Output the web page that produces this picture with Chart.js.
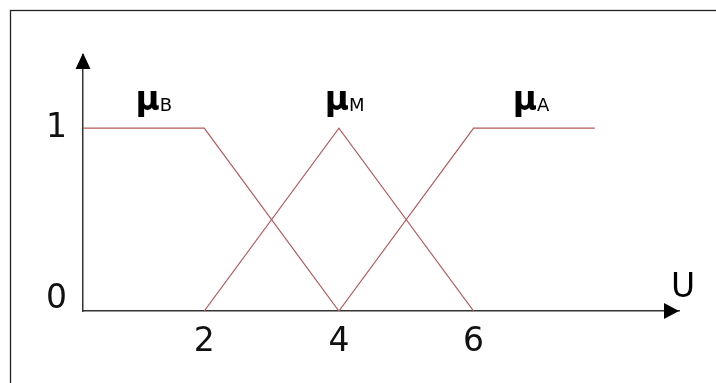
<!DOCTYPE html>
<html>
<head>
<meta charset="utf-8">
<script src="https://cdn.jsdelivr.net/npm/chart.js@4/dist/chart.umd.min.js"></script>
<style>
  body { margin: 0; background: #fff; }
</style>
</head>
<body>
<canvas id="my-chart" width="716" height="383"></canvas>
<script>
// membership functions (x = U, y = degree)
let lowX = [0.2, 2, 4];
let lowY = [1, 1, 0];
let midX = [2, 4, 6];
let midY = [0, 1, 0];
let highX = [4, 6, 7.8];
let highY = [0, 1, 1];

let xTicks = [2, 4, 6];
let yTicks = [0, 1];

let curveNames = ['B', 'M', 'A'];
let nameX = [0.98, 3.79, 6.58];
let nameY = 1.1;
let axisName = 'U';

function toPoints(xs, ys) {
    let pts = [];
    for (let i = 0; i < xs.length; i++) {
        pts.push({ x: xs[i], y: ys[i] });
    }
    return pts;
}

let lineColor = '#b9585a';
let axisColor = '#333';
let fontFamily = '"DejaVu Sans", Verdana, sans-serif';

let extras = {
    id: 'extras',
    beforeDraw: function(chart) {
        let ctx = chart.ctx;
        ctx.save();
        ctx.fillStyle = '#fff';
        ctx.fillRect(0, 0, chart.width, chart.height);
        ctx.strokeStyle = '#222';
        ctx.lineWidth = 1.3;
        ctx.strokeRect(10.5, 10.5, 800, 800);
        ctx.restore();
    },
    afterDraw: function(chart) {
        let ctx = chart.ctx;
        let area = chart.chartArea;
        let xs = chart.scales.x;
        let ys = chart.scales.y;
        ctx.save();
        ctx.fillStyle = '#000';

        // arrow heads
        ctx.beginPath();
        ctx.moveTo(area.left, area.top - 2);
        ctx.lineTo(area.left - 7.5, area.top + 14);
        ctx.lineTo(area.left + 7.5, area.top + 14);
        ctx.closePath();
        ctx.fill();

        ctx.beginPath();
        ctx.moveTo(area.right, area.bottom);
        ctx.lineTo(area.right - 15, area.bottom - 8);
        ctx.lineTo(area.right - 15, area.bottom + 8);
        ctx.closePath();
        ctx.fill();

        // axis name
        ctx.font = '33px ' + fontFamily;
        ctx.textBaseline = 'alphabetic';
        ctx.textAlign = 'left';
        ctx.fillText(axisName, area.right - 8, area.bottom - 14);

        // curve names
        for (let i = 0; i < curveNames.length; i++) {
            let px = xs.getPixelForValue(nameX[i]);
            let py = ys.getPixelForValue(nameY);
            ctx.font = 'bold 33px ' + fontFamily;
            ctx.fillText('μ', px, py);
            let w = ctx.measureText('μ').width;
            ctx.font = '18px ' + fontFamily;
            ctx.fillText(curveNames[i], px + w, py + 1);
        }
        ctx.restore();
    }
};

let ctx = document.getElementById('my-chart').getContext('2d');

let myData = {
    datasets: [
        { data: toPoints(lowX, lowY) },
        { data: toPoints(midX, midY) },
        { data: toPoints(highX, highY) }
    ]
};

let myChart = new Chart(ctx, {
    type: 'scatter',
    data: myData,
    options: {
        responsive: false,
        animation: false,
        showLine: true,
        layout: { padding: { top: 55, right: 37, left: 0, bottom: 0 } },
        elements: {
            point: { radius: 0, hoverRadius: 0 },
            line: { borderColor: lineColor, borderWidth: 1.2, tension: 0, fill: false }
        },
        plugins: {
            legend: { display: false },
            tooltip: { enabled: false }
        },
        scales: {
            x: {
                type: 'linear',
                min: 0.2,
                max: 9.05,
                grid: { display: false, drawTicks: false },
                border: { display: true, color: axisColor, width: 1.5 },
                afterBuildTicks: function(scale) {
                    scale.ticks = xTicks.map(v => ({ value: v }));
                },
                afterFit: function(scale) { scale.height = 72; },
                ticks: {
                    color: '#111',
                    padding: 12,
                    maxRotation: 0,
                    font: { family: fontFamily, size: 33 }
                }
            },
            y: {
                type: 'linear',
                min: 0,
                max: 1.4,
                grid: { display: false, drawTicks: false },
                border: { display: true, color: axisColor, width: 1.5 },
                afterBuildTicks: function(scale) {
                    scale.ticks = yTicks.map(v => ({ value: v }));
                },
                afterFit: function(scale) { scale.width = 83; },
                ticks: {
                    color: '#111',
                    padding: 16,
                    font: { family: fontFamily, size: 33, lineHeight: '24px' },
                    // the 0 sits a little above the axis line
                    callback: function(v) { return v === 0 ? ['0', ''] : String(v); }
                }
            }
        }
    },
    plugins: [extras]
});
</script>
</body>
</html>
